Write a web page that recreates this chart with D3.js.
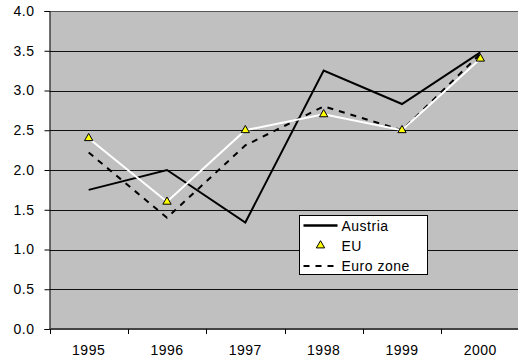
<!DOCTYPE html>
<html>
<head>
<meta charset="utf-8">
<script src="https://cdn.jsdelivr.net/npm/d3@7"></script>
<style>
  body { margin: 0; background: #fff; }
  text { font-family: "Liberation Sans", Arial, sans-serif; font-size: 14px; letter-spacing: 0.5px; fill: #000; }
</style>
</head>
<body>
<svg id="chart" width="518" height="360"></svg>
<script>
const years = ["1995", "1996", "1997", "1998", "1999", "2000"];
const austria = [1.75, 2.0, 1.34, 3.25, 2.83, 3.48];
const eu = [2.4, 1.6, 2.5, 2.7, 2.5, 3.4];
const euroZone = [2.22, 1.4, 2.31, 2.8, 2.5, 3.46];
const yTicks = [0, 0.5, 1, 1.5, 2, 2.5, 3, 3.5, 4];

const svg = d3.select("#chart");
const plot = { left: 49.5, top: 11, right: 519.5, bottom: 329 };

const xScale = d3.scaleBand().domain(years).range([plot.left, plot.right]);
const yScale = d3.scaleLinear().domain([0, 4]).range([plot.bottom, plot.top]);
const cx = d => xScale(d) + xScale.bandwidth() / 2;

// plot background
svg.append("rect")
    .attr("x", plot.left).attr("y", plot.top)
    .attr("width", plot.right - plot.left).attr("height", plot.bottom - plot.top)
    .attr("fill", "#c0c0c0");

// gridlines
svg.append("g").selectAll("line")
    .data(yTicks.filter(d => d > 0))
    .join("line")
    .attr("x1", plot.left).attr("x2", plot.right)
    .attr("y1", d => Math.round(yScale(d)) + 0.5).attr("y2", d => Math.round(yScale(d)) + 0.5)
    .attr("stroke", d => d === 4 ? "#555" : "#111").attr("stroke-width", 1);

// y axis
const yAxis = d3.axisLeft(yScale).tickValues(yTicks).tickFormat(d3.format(".1f")).tickSize(5).tickPadding(10);
const gy = svg.append("g").attr("transform", "translate(" + plot.left + ",0)").call(yAxis);
gy.attr("font-size", null).attr("font-family", null);
gy.select(".domain").attr("stroke", "#000");
gy.selectAll(".tick line").attr("stroke", "#000");

// x axis with ticks between categories
const xAxis = d3.axisBottom(xScale).tickSize(0).tickPadding(16);
const gx = svg.append("g").attr("transform", "translate(0," + plot.bottom + ")").call(xAxis);
gx.attr("font-size", null).attr("font-family", null);
gx.select(".domain").remove();
svg.append("line")
    .attr("x1", plot.left).attr("x2", plot.right)
    .attr("y1", plot.bottom).attr("y2", plot.bottom)
    .attr("stroke", "#444").attr("stroke-width", 2);
svg.append("g").selectAll("line")
    .data(years)
    .join("line")
    .attr("x1", d => Math.round(xScale(d)) + 0.5).attr("x2", d => Math.round(xScale(d)) + 0.5)
    .attr("y1", plot.bottom).attr("y2", plot.bottom + 5)
    .attr("stroke", "#000");

const line = d3.line().x((d, i) => cx(years[i])).y(d => yScale(d));

svg.append("path").datum(austria).attr("d", line)
    .attr("fill", "none").attr("stroke", "#000").attr("stroke-width", 2);
svg.append("path").datum(euroZone).attr("d", line)
    .attr("fill", "none").attr("stroke", "#000").attr("stroke-width", 2)
    .attr("stroke-dasharray", "6,6");
svg.append("path").datum(eu).attr("d", line)
    .attr("fill", "none").attr("stroke", "#fff").attr("stroke-width", 2);

const tri = d3.symbol().type(d3.symbolTriangle).size(30);
svg.append("g").selectAll("path")
    .data(eu)
    .join("path")
    .attr("d", tri)
    .attr("transform", (d, i) => "translate(" + cx(years[i]) + "," + yScale(d) + ")")
    .attr("fill", "#ffff00").attr("stroke", "#000").attr("stroke-width", 1);

// legend
const lg = svg.append("g").attr("transform", "translate(299.5,215.5)");
lg.append("rect").attr("width", 128).attr("height", 59)
    .attr("fill", "#fff").attr("stroke", "#000");
lg.append("line").attr("x1", 4).attr("x2", 38).attr("y1", 10).attr("y2", 10)
    .attr("stroke", "#000").attr("stroke-width", 2.5);
lg.append("path").attr("d", tri).attr("transform", "translate(21,30)")
    .attr("fill", "#ffff00").attr("stroke", "#000");
lg.append("line").attr("x1", 4).attr("x2", 40).attr("y1", 50.5).attr("y2", 50.5)
    .attr("stroke", "#000").attr("stroke-width", 2).attr("stroke-dasharray", "6,6");
lg.selectAll("text")
    .data(["Austria", "EU", "Euro zone"])
    .join("text")
    .attr("x", 42).attr("y", (d, i) => 15.5 + i * 20)
    .text(d => d);
</script>
</body>
</html>
